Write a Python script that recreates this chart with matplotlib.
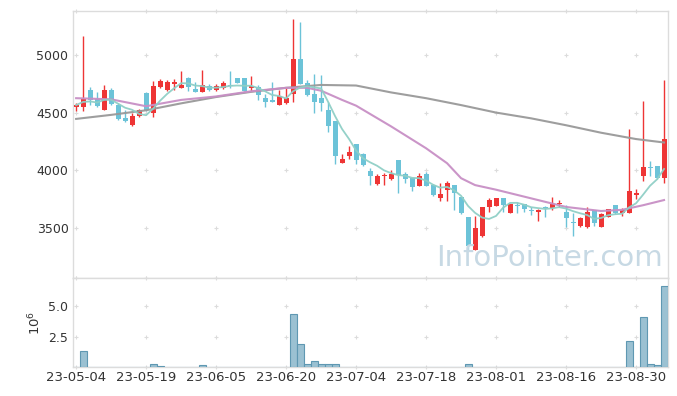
import numpy as np
import pandas as pd
import matplotlib
matplotlib.use("Agg")
import matplotlib.pyplot as plt

#%% data

opens = [4550, 4550, 4700, 4620, 4520, 4700, 4565, 4455, 4390, 4470,
         4670, 4500, 4720, 4700, 4750, 4715, 4800, 4705, 4680, 4735,
         4700, 4710, 4740, 4800, 4800, 4710, 4720, 4630, 4605, 4570,
         4580, 4665, 4965, 4755, 4660, 4630, 4520, 4430, 4065, 4125,
         4225, 4140, 3990, 3880, 3945, 3920, 4085, 3965, 3930, 3865,
         3970, 3875, 3755, 3830, 3870, 3770, 3590, 3310, 3425, 3680,
         3690, 3755, 3630, 3695, 3705, 3650, 3640, 3675, 3670, 3705,
         3635, 3550, 3515, 3505, 3650, 3510, 3595, 3695, 3630, 3625,
         3785, 3950, 4025, 4035, 3935]
highs = [4585, 5165, 4720, 4675, 4740, 4710, 4585, 4520, 4495, 4535,
         4680, 4770, 4795, 4785, 4795, 4860, 4810, 4765, 4870, 4750,
         4750, 4770, 4860, 4800, 4800, 4815, 4740, 4660, 4765, 4695,
         4710, 5310, 5285, 4785, 4835, 4825, 4595, 4430, 4140, 4210,
         4225, 4150, 4015, 3970, 3975, 4000, 4085, 3985, 3935, 3975,
         3985, 3880, 3890, 3905, 3870, 3770, 3590, 3600, 3680, 3755,
         3755, 3760, 3710, 3725, 3710, 3680, 3660, 3685, 3765, 3740,
         3695, 3625, 3595, 3680, 3650, 3625, 3665, 3700, 3670, 4355,
         3835, 4600, 4075, 4040, 4780]
lows = [4515, 4515, 4565, 4550, 4520, 4565, 4435, 4420, 4380, 4460,
        4510, 4465, 4710, 4690, 4700, 4710, 4690, 4675, 4675, 4690,
        4690, 4705, 4715, 4755, 4685, 4690, 4610, 4550, 4595, 4565,
        4575, 4595, 4750, 4640, 4500, 4510, 4335, 4050, 4065, 4095,
        4050, 4040, 3870, 3870, 3870, 3915, 3805, 3890, 3815, 3860,
        3860, 3775, 3735, 3735, 3655, 3620, 3300, 3310, 3420, 3640,
        3690, 3640, 3625, 3625, 3640, 3610, 3560, 3595, 3655, 3680,
        3510, 3430, 3505, 3495, 3515, 3505, 3590, 3615, 3600, 3625,
        3745, 3905, 3945, 3925, 3890]
closes = [4565, 4620, 4605, 4560, 4700, 4575, 4445, 4430, 4470, 4520,
          4520, 4730, 4775, 4765, 4765, 4740, 4725, 4680, 4740, 4700,
          4735, 4755, 4730, 4755, 4690, 4735, 4655, 4590, 4595, 4645,
          4630, 4965, 4750, 4655, 4595, 4585, 4385, 4125, 4095, 4160,
          4090, 4045, 3950, 3945, 3960, 3970, 3960, 3920, 3855, 3945,
          3865, 3780, 3795, 3885, 3800, 3625, 3340, 3495, 3680, 3740,
          3755, 3695, 3705, 3685, 3660, 3645, 3655, 3670, 3710, 3712,
          3585, 3540, 3580, 3635, 3545, 3620, 3660, 3625, 3655, 3820,
          3800, 4030, 4015, 3935, 4270]
# volume in millions
volumes = [0, 1.32, 0.06, 0.06, 0.06, 0.06, 0.06, 0, 0, 0,
           0, 0.25, 0.07, 0, 0, 0, 0, 0.06, 0.17, 0,
           0, 0, 0.06, 0, 0, 0, 0.06, 0.06, 0, 0,
           0, 4.37, 1.9, 0.25, 0.5, 0.25, 0.25, 0.25, 0.06, 0,
           0.06, 0.06, 0.06, 0, 0, 0, 0, 0.06, 0, 0,
           0, 0.06, 0, 0.06, 0.06, 0.06, 0.25, 0.06, 0, 0,
           0, 0, 0, 0, 0, 0, 0, 0, 0, 0,
           0.06, 0.06, 0, 0, 0, 0, 0, 0, 0, 2.17,
           0.06, 4.12, 0.25, 0.17, 6.7]

# 20 and 60 day averages (they use data before the window)
ma20_idx = [0, 5, 10, 15, 20, 25, 30, 33, 35, 38, 40, 45, 50, 53, 55, 57, 60, 65, 70, 75, 78, 81, 84]
ma20_val = [4625, 4615, 4555, 4610, 4640, 4685, 4715, 4715, 4690, 4610, 4560, 4380, 4190, 4060,
            3930, 3870, 3830, 3755, 3680, 3645, 3655, 3695, 3740]
ma60_idx = [0, 5, 10, 15, 20, 25, 30, 35, 40, 45, 50, 55, 60, 65, 70, 75, 80, 84]
ma60_val = [4445, 4480, 4520, 4580, 4635, 4680, 4715, 4740, 4735, 4675, 4625, 4565, 4500,
            4450, 4390, 4325, 4270, 4240]

tick_pos = [0, 10, 20, 30, 40, 50, 60, 70, 80]
tick_lab = ["23-05-04", "23-05-19", "23-06-05", "23-06-20", "23-07-04",
            "23-07-18", "23-08-01", "23-08-16", "23-08-30"]

#%% figure

UP = "#ee3535"
DOWN = "#6cc3d8"
GRID = "#dcdcdc"
TXT = "#333333"

o = np.array(opens); h = np.array(highs); l = np.array(lows); c = np.array(closes)
x = np.arange(len(c))
ma5 = pd.Series(c).rolling(5, min_periods=1).mean()

fig = plt.figure(figsize=(6.77, 3.96), dpi=100)
ax1 = fig.add_axes([0.1083, 0.298, 0.8777, 0.675])
ax2 = fig.add_axes([0.1083, 0.0725, 0.8777, 0.2255])

up = c >= o
col = np.where(up, UP, DOWN)
body_lo = np.minimum(o, c)
body_h = np.maximum(np.abs(c - o), 8)

ax1.vlines(x, l, h, color=col, lw=1.0, zorder=2)
ax1.bar(x, body_h, bottom=body_lo, width=0.72, color=col, zorder=3)

ax1.plot(ma60_idx, ma60_val, color="#999999", lw=1.5, zorder=4, alpha=0.95)
ax1.plot(ma20_idx, ma20_val, color="#c88fc5", lw=1.5, zorder=4, alpha=0.95)
ax1.plot(x, ma5, color="#8fcfc6", lw=1.3, zorder=4, alpha=0.95)

ax1.set_xlim(-0.4, 84.5)
ax1.set_ylim(3063, 5385)
ax1.set_yticks([3500, 4000, 4500, 5000])
ax1.set_xticks(tick_pos)
ax1.set_xticklabels([])

ax2.bar(x, volumes, width=1.0, color="#9bc1d2", edgecolor="#5f98b2", lw=0.8, zorder=3)
ax2.set_xlim(-0.4, 84.5)
ax2.set_ylim(0, 7.34)
ax2.set_yticks([2.5, 5.0])
ax2.set_yticklabels(["2.5", "5.0"])
ax2.set_xticks(tick_pos)
ax2.set_xticklabels(tick_lab)
ax2.set_ylabel(r"$10^6$", color=TXT, fontsize=9.5, labelpad=4)

for ax, ys in ((ax1, [3063, 3500, 4000, 4500, 5000, 5385]), (ax2, [0, 2.5, 5.0, 7.34])):
    for s in ax.spines.values():
        s.set_color(GRID)
        s.set_linewidth(1.0)
    ax.tick_params(length=0, colors=TXT, labelsize=9)
    gx, gy = np.meshgrid(tick_pos, ys)
    ax.scatter(gx.ravel(), gy.ravel(), marker="+", s=9, color=GRID, lw=0.8, zorder=1, clip_on=False)
ax2.tick_params(axis="x", labelsize=9.5, pad=3)

fig.text(0.8124, 0.329, "InfoPointer.com", fontsize=21, color="#c7d9e4",
         ha="center", va="baseline", zorder=0)

fig.savefig("out.png", dpi=100)
